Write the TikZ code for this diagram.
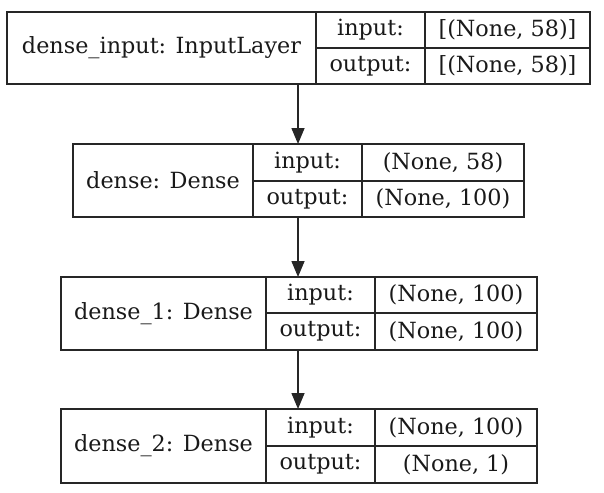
\documentclass[tikz,border=0pt]{standalone}
\usepackage{fontspec}
\setmainfont{DejaVu Serif}
\usetikzlibrary{arrows.meta}
\begin{document}
\begin{tikzpicture}[x=1pt,y=-1pt,
  cell/.style={draw=black!85, line width=1.5pt, inner sep=0pt, outer sep=0pt, text=black!90, font=\fontsize{22.3}{25}\selectfont},
  conn/.style={draw=black!85, line width=1.5pt, -{Triangle[length=16pt,width=13pt]}}]
\useasboundingbox (0,0) rectangle (604,492);
% layer 1
\node[cell, minimum width=309pt, minimum height=72pt] (n1) at (161.5,48) {dense\_input: InputLayer};
\node[cell, minimum width=109pt, minimum height=36pt] (n1li) at (370.5,30) {input:};
\node[cell, minimum width=109pt, minimum height=36pt] (n1lo) at (370.5,66) {output:};
\node[cell, minimum width=165pt, minimum height=36pt] (n1vi) at (507.5,30) {[(None, 58)]};
\node[cell, minimum width=165pt, minimum height=36pt] (n1vo) at (507.5,66) {[(None, 58)]};
% layer 2
\node[cell, minimum width=180pt, minimum height=73pt] (n2) at (163,180.5) {dense: Dense};
\node[cell, minimum width=109pt, minimum height=37pt] (n2li) at (307.5,162.5) {input:};
\node[cell, minimum width=109pt, minimum height=36pt] (n2lo) at (307.5,199) {output:};
\node[cell, minimum width=162pt, minimum height=37pt] (n2vi) at (443,162.5) {(None, 58)};
\node[cell, minimum width=162pt, minimum height=36pt] (n2vo) at (443,199) {(None, 100)};
% layer 3
\node[cell, minimum width=205pt, minimum height=73pt] (n3) at (163.5,313.5) {dense\_1: Dense};
\node[cell, minimum width=109pt, minimum height=36pt] (n3li) at (320.5,295) {input:};
\node[cell, minimum width=109pt, minimum height=37pt] (n3lo) at (320.5,331.5) {output:};
\node[cell, minimum width=162pt, minimum height=36pt] (n3vi) at (456,295) {(None, 100)};
\node[cell, minimum width=162pt, minimum height=37pt] (n3vo) at (456,331.5) {(None, 100)};
% layer 4
\node[cell, minimum width=205pt, minimum height=74pt] (n4) at (163.5,446) {dense\_2: Dense};
\node[cell, minimum width=109pt, minimum height=37pt] (n4li) at (320.5,427.5) {input:};
\node[cell, minimum width=109pt, minimum height=37pt] (n4lo) at (320.5,464.5) {output:};
\node[cell, minimum width=162pt, minimum height=37pt] (n4vi) at (456,427.5) {(None, 100)};
\node[cell, minimum width=162pt, minimum height=37pt] (n4vo) at (456,464.5) {(None, 1)};
% connectors
\coordinate (a1) at (298,84);
\coordinate (b1) at (298,144);
\coordinate (a2) at (298,217);
\coordinate (b2) at (298,277);
\coordinate (a3) at (298,350);
\coordinate (b3) at (298,409);
\draw[conn] (a1) -- (b1);
\draw[conn] (a2) -- (b2);
\draw[conn] (a3) -- (b3);
\end{tikzpicture}
\end{document}
